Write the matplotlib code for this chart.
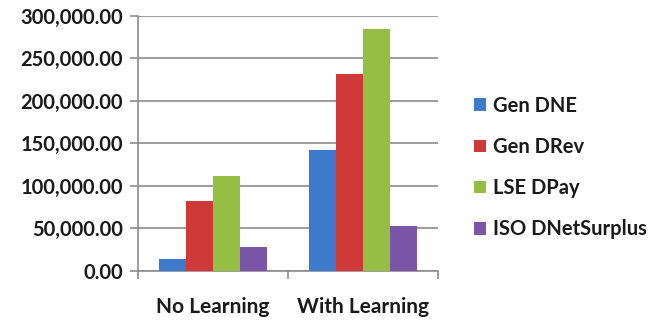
import numpy as np
import matplotlib.pyplot as plt
from matplotlib.ticker import FuncFormatter

categories = ["No Learning", "With Learning"]
series = ["Gen DNE", "Gen DRev", "LSE DPay", "ISO DNetSurplus"]
gen_dne = [14500, 142500]
gen_drev = [82600, 231800]
lse_dpay = [111600, 284700]
iso_dnetsurplus = [27800, 53200]
colors = ["#3d7acb", "#cf3a38", "#94bf43", "#7a55a8"]

plt.rcParams["font.family"] = ["Lato", "DejaVu Sans"]
plt.rcParams["font.weight"] = "bold"

fig = plt.figure(figsize=(6.55, 3.24), dpi=100)
ax = fig.add_axes([138 / 655, 53 / 324, 300 / 655, 255.3 / 324])

x = np.arange(len(categories))
w = 0.181
for i, (name, vals) in enumerate(zip(series, [gen_dne, gen_drev, lse_dpay, iso_dnetsurplus])):
    ax.bar(x + (i - 1.5) * w, vals, width=w, color=colors[i], label=name, zorder=3)

ax.set_xlim(-0.5, 1.5)
ax.set_ylim(0, 300000)
ax.set_yticks(np.arange(0, 300001, 50000))
ax.yaxis.set_major_formatter(FuncFormatter(lambda v, p: f"{v:,.2f}"))
ax.set_xticks(x)
ax.set_xticklabels(categories)
ax.set_xticks([-0.5, 0.5, 1.5], minor=True)

ax.grid(axis="y", color="#8c8c8c", linewidth=1.2, zorder=0)
for s in ["top", "right"]:
    ax.spines[s].set_visible(False)
for s in ["left", "bottom"]:
    ax.spines[s].set_color("#8c8c8c")
    ax.spines[s].set_linewidth(1.2)

ax.tick_params(axis="y", length=6, width=1.2, color="#8c8c8c", labelsize=14.5, labelcolor="#1a1a1a", pad=5)
ax.tick_params(axis="x", which="major", length=0, labelsize=15, labelcolor="#1a1a1a", pad=19)
ax.tick_params(axis="x", which="minor", length=6, width=1.2, color="#8c8c8c")

leg = ax.legend(loc="center left", bbox_to_anchor=(1.06, 0.405), frameon=False,
                fontsize=14.5, handlelength=0.6, handleheight=0.6, handletextpad=0.35,
                labelspacing=1.05)
for t in leg.get_texts():
    t.set_color("#1a1a1a")

fig.savefig("out.png", dpi=100)
